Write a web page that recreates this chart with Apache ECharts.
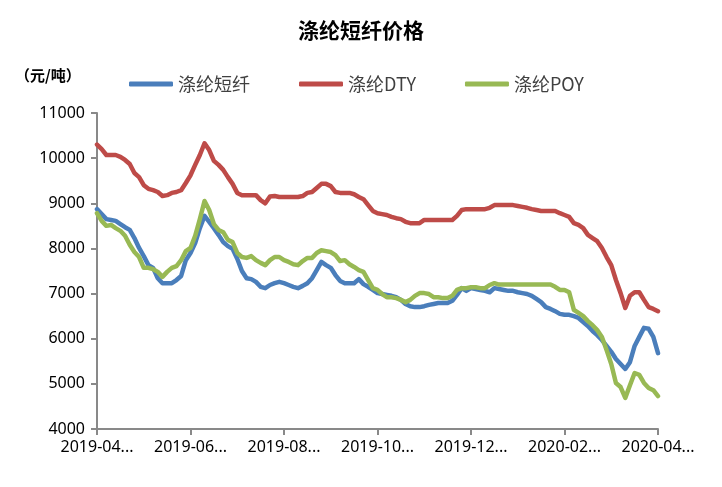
<!DOCTYPE html>
<html>
<head>
<meta charset="utf-8">
<script src="https://cdn.jsdelivr.net/npm/echarts@6/dist/echarts.min.js"></script>
<style>
  html, body { margin: 0; padding: 0; background: #fff; }
  #chart { width: 722px; height: 487px; }
</style>
</head>
<body>
<div id="chart"></div>
<script>
// Categories: dates from 2019-04-03 to 2020-04-02 (121 observations)
const startDay = Date.UTC(2019, 3, 3);
const categories = Array.from({ length: 121 }, (_, i) =>
  new Date(startDay + Math.round(i * 365 / 120) * 86400000).toISOString().slice(0, 10));

const seriesNames = ['涤纶短纤', '涤纶DTY', '涤纶POY'];

const staple = [
  8870, 8760, 8650, 8630, 8610, 8540, 8470, 8410, 8230, 8010,
  7830, 7630, 7570, 7340, 7230, 7230, 7230, 7300, 7390, 7740,
  7900, 8120, 8450, 8720, 8590, 8450, 8300, 8140, 8050, 7990,
  7770, 7500, 7340, 7320, 7260, 7150, 7120, 7190, 7230, 7260,
  7230, 7190, 7150, 7120, 7170, 7230, 7340, 7520, 7700, 7630,
  7570, 7410, 7280, 7230, 7230, 7230, 7320, 7210, 7150, 7080,
  7010, 6990, 6970, 6950, 6920, 6860, 6770, 6720, 6700, 6700,
  6720, 6750, 6770, 6790, 6790, 6790, 6840, 6970, 7120, 7060,
  7120, 7100, 7080, 7060, 7030, 7120, 7100, 7080, 7060, 7060,
  7030, 7010, 6990, 6950, 6880, 6810, 6700, 6660, 6610, 6550,
  6530, 6530, 6500, 6460, 6370, 6280, 6170, 6080, 5970, 5840,
  5710, 5550, 5440, 5330, 5480, 5840, 6040, 6240, 6220, 6040,
  5680
];

const dty = [
  10300, 10200, 10070, 10070, 10070, 10030, 9960, 9870, 9670, 9580,
  9400, 9320, 9290, 9250, 9160, 9180, 9230, 9250, 9290, 9450,
  9620, 9850, 10070, 10330, 10180, 9940, 9850, 9740, 9580, 9430,
  9230, 9180, 9180, 9180, 9180, 9070, 9000, 9150, 9160, 9140,
  9140, 9140, 9140, 9140, 9160, 9230, 9250, 9340, 9430, 9430,
  9380, 9250, 9230, 9230, 9230, 9200, 9140, 9090, 8960, 8830,
  8780, 8760, 8740, 8700, 8670, 8650, 8590, 8560, 8560, 8560,
  8630, 8630, 8630, 8630, 8630, 8630, 8630, 8720, 8850, 8870,
  8870, 8870, 8870, 8870, 8900, 8960, 8960, 8960, 8960, 8960,
  8940, 8920, 8900, 8870, 8850, 8830, 8830, 8830, 8830, 8780,
  8740, 8700, 8560, 8520, 8450, 8300, 8230, 8160, 8010, 7810,
  7630, 7300, 7010, 6680, 6950, 7030, 7030, 6860, 6700, 6660,
  6610
];

const poy = [
  8780, 8610, 8500, 8520, 8450, 8390, 8280, 8080, 7920, 7810,
  7570, 7570, 7540, 7480, 7370, 7480, 7570, 7610, 7740, 7940,
  8010, 8280, 8650, 9050, 8850, 8540, 8410, 8360, 8190, 8140,
  7900, 7810, 7790, 7830, 7740, 7680, 7630, 7740, 7810, 7810,
  7740, 7700, 7650, 7630, 7720, 7790, 7790, 7900, 7960, 7940,
  7920, 7850, 7720, 7740, 7650, 7590, 7520, 7480, 7300, 7120,
  7080, 6990, 6920, 6920, 6900, 6860, 6810, 6860, 6950, 7010,
  7010, 6990, 6920, 6920, 6900, 6900, 6950, 7080, 7120, 7120,
  7140, 7140, 7120, 7120, 7190, 7230, 7200, 7200, 7200, 7200,
  7200, 7200, 7200, 7200, 7200, 7200, 7200, 7200, 7150, 7080,
  7080, 7030, 6640, 6570, 6500, 6390, 6300, 6190, 6040, 5750,
  5440, 5020, 4930, 4690, 4970, 5240, 5200, 5020, 4910, 4860,
  4730
];

const colors = ['#4A7EBB', '#BE4B48', '#98B954'];
const axisColor = '#898989';
const labelFont = 'Noto Sans, sans-serif';

const chart = echarts.init(document.getElementById('chart'), null, { renderer: 'canvas' });

function lineSeries(name, data, color) {
  return {
    name: name,
    type: 'line',
    data: data,
    showSymbol: false,
    symbol: 'none',
    smooth: false,
    lineStyle: { color: color, width: 4.5, cap: 'round', join: 'round' },
    itemStyle: { color: color },
    emphasis: { disabled: true }
  };
}

chart.setOption({
  animation: false,
  backgroundColor: '#ffffff',
  title: {
    text: '涤纶短纤价格',
    left: 'center',
    top: 15,
    textStyle: { fontFamily: 'Noto Sans CJK SC', fontSize: 21, fontWeight: 'bold', color: '#000' }
  },
  graphic: [{
    type: 'text',
    left: 15,
    top: 68,
    style: { text: '（元/吨）', font: 'bold 15px "Noto Sans CJK SC"', fill: '#000' }
  }],
  legend: {
    left: 124,
    top: 70,
    itemWidth: 44,
    itemHeight: 5,
    itemGap: 49,
    icon: 'roundRect',
    data: seriesNames,
    textStyle: { fontFamily: 'Noto Sans CJK SC', fontSize: 18, color: '#404040' }
  },
  grid: { left: 97, right: 64, top: 113, bottom: 58, containLabel: false },
  xAxis: {
    type: 'category',
    data: categories,
    boundaryGap: false,
    axisLine: { lineStyle: { color: axisColor, width: 2 } },
    axisTick: { show: true, interval: 19, length: 6, lineStyle: { color: axisColor, width: 2 } },
    axisLabel: {
      interval: 19,
      margin: 10,
      color: '#000',
      fontFamily: labelFont,
      fontSize: 16,
      formatter: v => v.slice(0, 7) + '...'
    },
    splitLine: { show: false }
  },
  yAxis: {
    type: 'value',
    min: 4000,
    max: 11000,
    interval: 1000,
    axisLine: { show: true, lineStyle: { color: axisColor, width: 2 } },
    axisTick: { show: true, length: 6, lineStyle: { color: axisColor, width: 2 } },
    axisLabel: { color: '#000', fontFamily: labelFont, fontSize: 16, margin: 12, formatter: v => String(v) },
    splitLine: { show: false }
  },
  series: [
    lineSeries(seriesNames[0], staple, colors[0]),
    lineSeries(seriesNames[1], dty, colors[1]),
    lineSeries(seriesNames[2], poy, colors[2])
  ]
});
</script>
</body>
</html>
